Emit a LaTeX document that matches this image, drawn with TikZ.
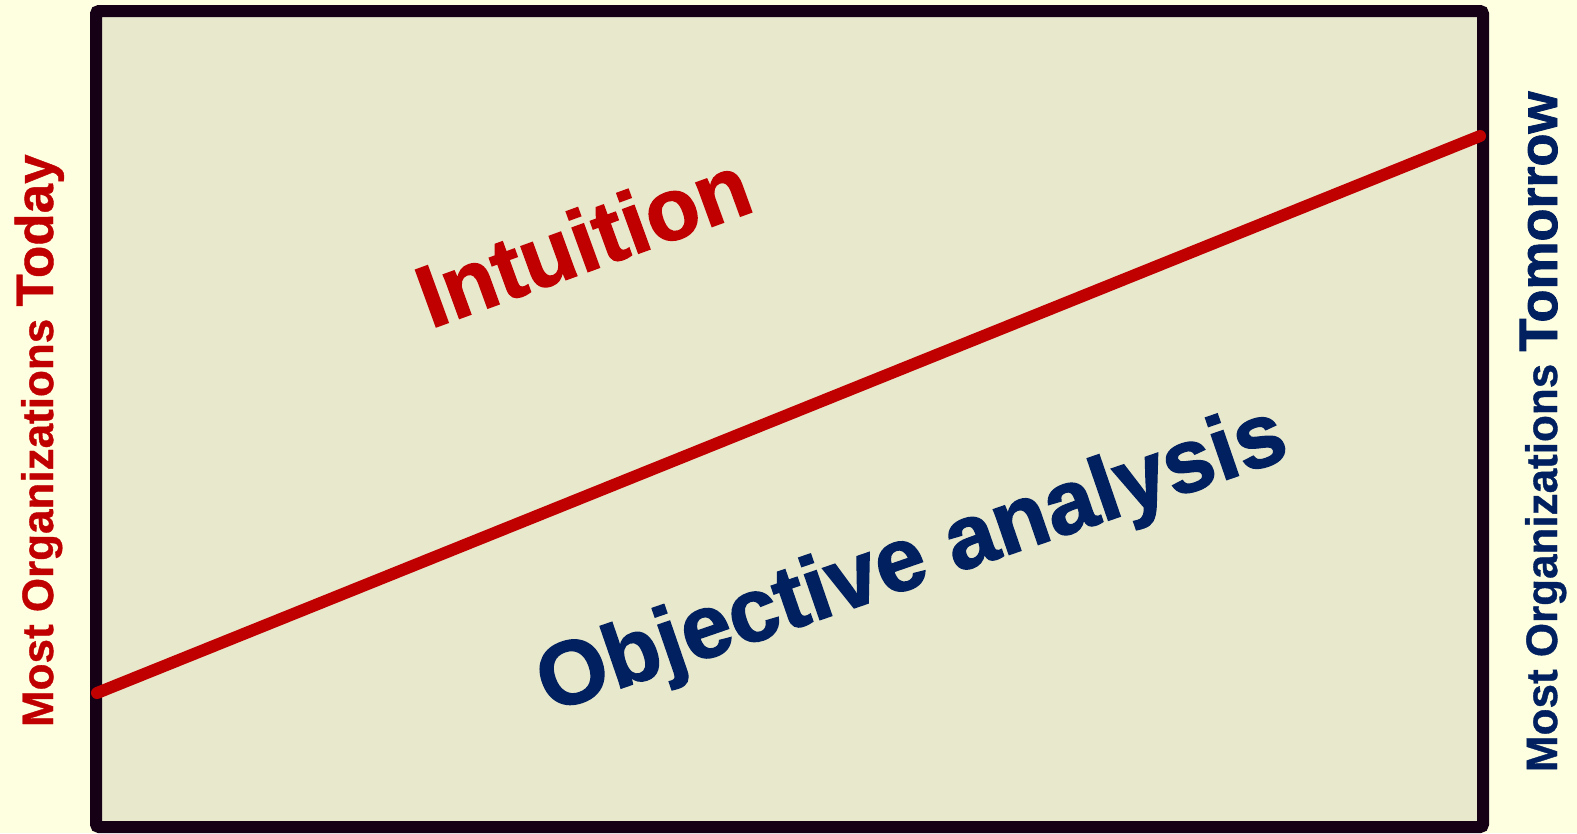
\documentclass[tikz,border=0pt]{standalone}
\usepackage{fontspec}
\setmainfont{Liberation Sans}
\newfontfamily\heavyfont{Liberation Sans}[FakeBold=1.6]
\newfontfamily\semiheavyfont{Liberation Sans}[FakeBold=0.8]
\definecolor{bgout}{HTML}{FEFEE0}
\definecolor{bgin}{HTML}{E8E8CC}
\definecolor{framecol}{HTML}{160016}
\definecolor{redc}{HTML}{C00000}
\definecolor{navy}{HTML}{002060}
\tikzset{
  framebox/.style={draw=framecol, line width=12pt, fill=bgin, rounded corners=3pt, inner sep=0pt, outer sep=0pt},
  redline/.style={draw=redc, line width=12pt, line cap=round},
  sidelabel/.style={inner sep=0pt, outer sep=0pt, rotate=90, anchor=base west},
  bigword/.style={inner sep=0pt, outer sep=0pt}
}
\begin{document}
\begin{tikzpicture}[x=1pt,y=1pt]
\useasboundingbox[fill=bgout] (0,0) rectangle (1577,-833);
\node[framebox, minimum width=1387pt, minimum height=816pt] (box) at (789.5,-419) {};
\coordinate (lstart) at (97,-693);
\coordinate (lend) at (1480,-136);
\draw[redline] (lstart) -- (lend);
\node[bigword, rotate=20, text=redc, font=\heavyfont\bfseries\fontsize{88}{98}\selectfont] (intu) at (583,-240) {Intuition};
\node[bigword, rotate=19, text=navy, font=\heavyfont\bfseries\fontsize{90}{100}\selectfont] (obj) at (913,-563) {Objective analysis};
\node[sidelabel, text=redc] (today) at (53,-727) {\semiheavyfont\bfseries\fontsize{44}{50}\selectfont Most Organizations \fontsize{53}{60}\selectfont Today};
\node[sidelabel, text=navy] (tomorrow) at (1557,-772) {\semiheavyfont\bfseries\fontsize{44}{50}\selectfont Most Organizations \heavyfont\bfseries\fontsize{54}{60}\selectfont Tomorrow};
\end{tikzpicture}
\end{document}
